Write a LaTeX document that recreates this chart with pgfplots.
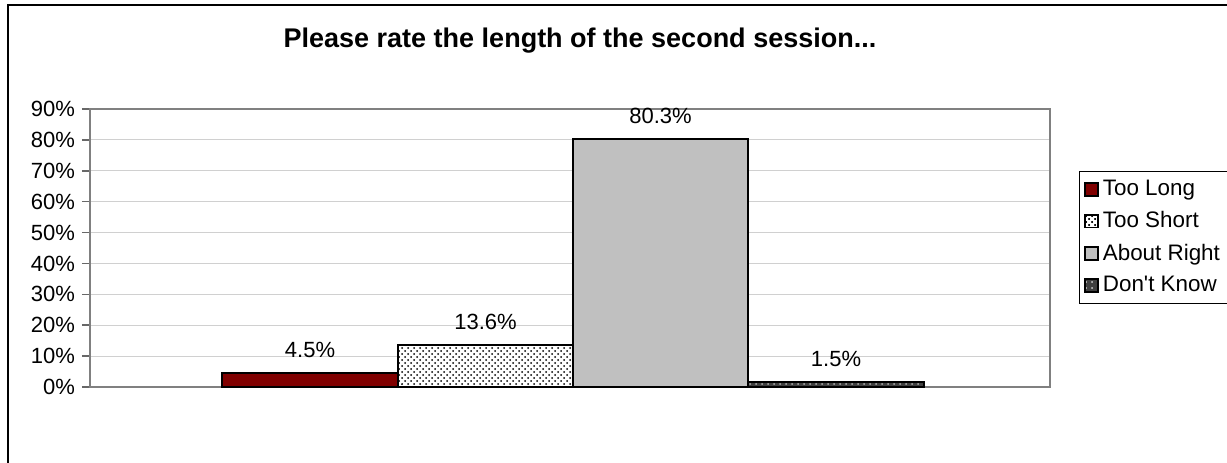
\documentclass[border=0pt]{standalone}
\usepackage{pgfplots}
\pgfplotsset{compat=1.18}
\usepackage{fontspec}
\setmainfont{Liberation Sans}
\usetikzlibrary{patterns}
\definecolor{toolong}{HTML}{800000}
\definecolor{about}{HTML}{C0C0C0}
\definecolor{dontknow}{HTML}{404040}
\definecolor{gridc}{HTML}{D0D0D0}
\definecolor{axc}{HTML}{808080}
\begin{document}
\begin{tikzpicture}
\useasboundingbox (-45pt,-37.5pt) rectangle (568.5pt,193.5pt);
\begin{scope}
\clip (-45pt,-37.5pt) rectangle (568.5pt,193.5pt);
\draw[line width=1pt] (-41pt,-45pt) -- (-41pt,191pt) -- (600pt,191pt);
\end{scope}
\node[font=\fontsize{13.5}{16}\selectfont\bfseries] at (245pt,173pt) {Please rate the length of the second session...};
\begin{axis}[
  at={(0pt,0pt)}, anchor=south west,
  scale only axis, width=480pt, height=139pt,
  xmin=0, xmax=960, ymin=0, ymax=90,
  xtick=\empty,
  ytick={0,10,...,90},
  ytick pos=left,
  yticklabel={\pgfmathprintnumber{\tick}\%},
  /pgf/number format/assume math mode=true,
  tick label style={font=\fontsize{11}{13}\selectfont},
  tick align=outside,
  major tick length=4pt,
  ytick style={axc!80!black, line width=0.8pt},
  axis line style={axc, line width=1pt},
  ymajorgrids,
  grid style={gridc, line width=0.5pt},
  legend style={at={(rel axis cs:1.0302,0.778)}, anchor=north west,
    draw=black, line width=0.5pt, font=\fontsize{11.2}{13}\selectfont,
    row sep=2.5pt, inner sep=2.5pt, cells={anchor=west}},
  legend cell align=left,
  nodes near coords,
  point meta=explicit symbolic,
  every node near coord/.append style={anchor=center, yshift=11.5pt, font=\fontsize{11}{13}\selectfont, text=black},
]
\addplot[ybar, bar width=175.5, bar shift=0pt, draw=black, line width=1pt, fill=toolong,
  legend image code/.code={\draw[line width=0.8pt,draw=black,fill=toolong] (0pt,-3.2pt) rectangle (6.4pt,3.2pt);}]
  coordinates {(220,4.5) [4.5\%]};
\addlegendentry{Too Long}
\addplot[ybar, bar width=175.5, bar shift=0pt, draw=black, line width=1pt, fill=white,
  postaction={pattern=crosshatch dots, pattern color=black},
  legend image code/.code={\draw[line width=0.8pt,draw=black,fill=white,postaction={pattern=crosshatch dots, pattern color=black}] (0pt,-3.2pt) rectangle (6.4pt,3.2pt);}]
  coordinates {(395.5,13.6) [13.6\%]};
\addlegendentry{Too Short}
\addplot[ybar, bar width=175.5, bar shift=0pt, draw=black, line width=1pt, fill=about,
  legend image code/.code={\draw[line width=0.8pt,draw=black,fill=about] (0pt,-3.2pt) rectangle (6.4pt,3.2pt);}]
  coordinates {(570.5,80.3) [80.3\%]};
\addlegendentry{About Right}
\addplot[ybar, bar width=175.5, bar shift=0pt, draw=black, line width=1pt, fill=dontknow,
  postaction={pattern=dots, pattern color=gray!60},
  legend image code/.code={\draw[line width=0.8pt,draw=black,fill=dontknow,postaction={pattern=dots, pattern color=gray!60}] (0pt,-3.2pt) rectangle (6.4pt,3.2pt);}]
  coordinates {(746,1.5) [1.5\%]};
\addlegendentry{Don\textquotesingle t Know}
\end{axis}
\end{tikzpicture}
\end{document}
